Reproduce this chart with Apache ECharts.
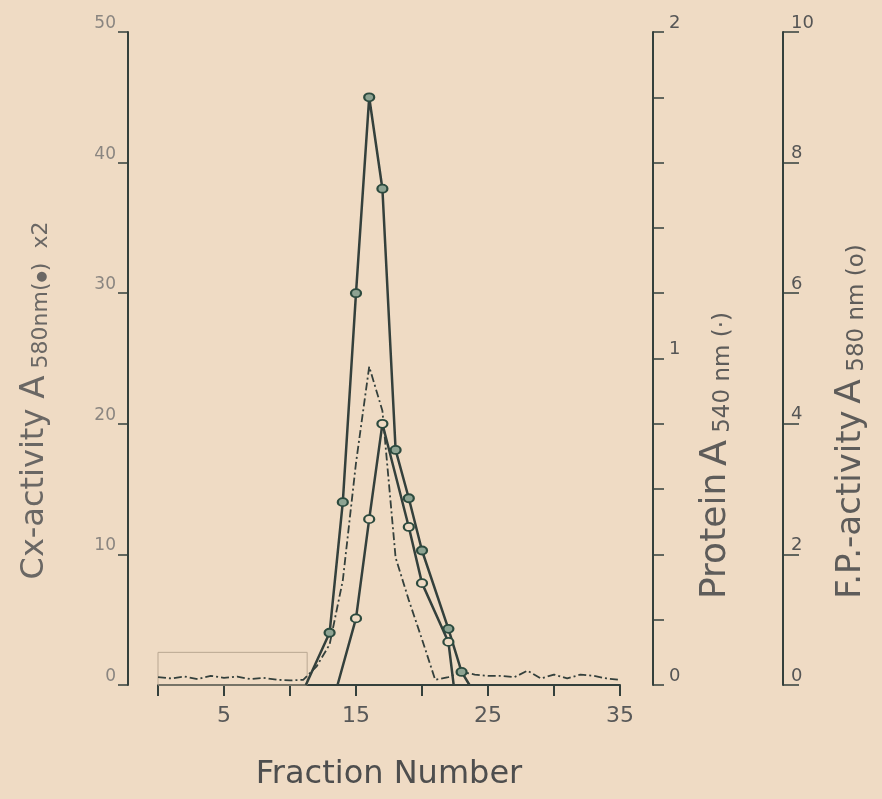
<!DOCTYPE html>
<html>
<head>
<meta charset="utf-8">
<style>
  html, body { margin: 0; padding: 0; background: #efdbc4; }
  #chart { width: 882px; height: 799px; }
</style>
<script src="https://cdn.jsdelivr.net/npm/echarts@6/dist/echarts.min.js"></script>
</head>
<body>
<div id="chart"></div>
<script>
// ---- data ----
const fractions = [0,1,2,3,4,5,6,7,8,9,10,11,12,13,14,15,16,17,18,19,20,21,22,23,24,25,26,27,28,29,30,31,32,33,34,35];
// Protein A540 nm (dash-dot line), protein axis units
const proteinA540 = [0.024,0.02,0.026,0.018,0.028,0.022,0.026,0.018,0.022,0.016,0.014,0.016,0.056,0.124,0.32,0.68,0.975,0.84,0.39,0.26,0.14,0.016,0.024,0.04,0.032,0.028,0.028,0.024,0.044,0.02,0.032,0.02,0.032,0.028,0.02,0.016];
// Cx-activity A580 nm x2 (solid line, filled circles), left axis units
const cxFractions = [11.2,13,14,15,16,17,18,19,20,22,23,23.6];
const cxActivity  = [0,4,14,30,45,38,18,14.3,10.3,4.3,1,0];
// F.P.-activity A580 nm (solid line, open circles), right-most axis units
const fpFractions = [13.6,15,16,17,19,20,22,22.4];
const fpActivity  = [0,1.02,2.54,4.0,2.42,1.56,0.66,0];
// tick labels
const xTickLabels = [5,15,25,35];
const proteinTickLabels = [0,1,2];

const ink = '#34403c';
const symInk = '#2c4a3e';

function richStyles(color, big, sub) {
  return {
    a: { fontSize: big, color: color, fontFamily: 'DejaVu Sans' },
    b: { fontSize: big + 2, color: color, fontFamily: 'DejaVu Sans' },
    s: { fontSize: sub, color: color, fontFamily: 'DejaVu Sans', verticalAlign: 'bottom' },
    d: { fontSize: Math.round(sub * 0.6), color: color, fontFamily: 'DejaVu Sans', verticalAlign: 'bottom', padding: [0, 0, 4, 0] }
  };
}

const chart = echarts.init(document.getElementById('chart'));
const option = {
  backgroundColor: '#efdbc4',
  animation: false,
  grid: { left: 158, right: 262, top: 32, bottom: 114 },
  xAxis: {
    type: 'value', min: 0, max: 35, interval: 5,
    axisLine: { show: true, onZero: false, lineStyle: { color: ink, width: 2 } },
    axisTick: { show: true, length: 11, lineStyle: { color: ink, width: 2 } },
    splitLine: { show: false },
    axisLabel: {
      margin: 20, fontSize: 22, color: '#585858', fontFamily: 'DejaVu Sans',
      formatter: v => xTickLabels.indexOf(v) >= 0 ? String(v) : ''
    },
    name: 'Fraction Number', nameLocation: 'middle', nameGap: 74,
    nameTextStyle: { fontSize: 32, color: '#4e4e4e', fontFamily: 'DejaVu Sans' }
  },
  yAxis: [
    {
      type: 'value', min: 0, max: 50, interval: 10, position: 'left', offset: 30,
      axisLine: { show: true, onZero: false, lineStyle: { color: ink, width: 2 } },
      axisTick: { show: true, length: 10, lineStyle: { color: ink, width: 1.5 } },
      splitLine: { show: false },
      axisLabel: { margin: 12, fontSize: 17, color: '#8a8580', fontFamily: 'DejaVu Sans', verticalAlign: 'bottom' },
      name: '{a|Cx-activity}   {b|A}{s| 580nm(}{d|●}{s|)  x2}',
      nameLocation: 'middle', nameRotate: 90, nameGap: 76,
      nameTextStyle: { padding: [0, 84, 0, 0], rich: richStyles('#6a6764', 32, 22) }
    },
    {
      type: 'value', min: 0, max: 2, interval: 0.2, position: 'right', offset: 33,
      axisLine: { show: true, onZero: false, lineStyle: { color: ink, width: 2 } },
      axisTick: { show: true, length: 11, lineStyle: { color: ink, width: 1.5 } },
      splitLine: { show: false },
      axisLabel: {
        margin: 16, fontSize: 18, color: '#555', fontFamily: 'DejaVu Sans', verticalAlign: 'bottom',
        formatter: v => {
          const r = Math.round(v);
          return (Math.abs(v - r) < 1e-6 && proteinTickLabels.indexOf(r) >= 0) ? String(r) : '';
        }
      },
      name: '{a|Protein}  {b|A}{s| 540 nm (·)}',
      nameLocation: 'middle', nameRotate: 90, nameGap: 44,
      nameTextStyle: { padding: [0, 194, 0, 0], rich: richStyles('#5e5c5a', 36, 23) }
    },
    {
      type: 'value', min: 0, max: 10, interval: 2, position: 'right', offset: 163,
      axisLine: { show: true, onZero: false, lineStyle: { color: ink, width: 2 } },
      axisTick: { show: true, length: 16, lineStyle: { color: ink, width: 1.5 } },
      splitLine: { show: false },
      axisLabel: { margin: 8, fontSize: 18, color: '#555', fontFamily: 'DejaVu Sans', verticalAlign: 'bottom' },
      name: '{a|F.P.-activity}  {b|A}{s| 580 nm (o)}',
      nameLocation: 'middle', nameRotate: 90, nameGap: 50,
      nameTextStyle: { padding: [0, 126, 0, 0], rich: richStyles('#5e5c5a', 34, 23) }
    }
  ],
  series: [
    {
      name: 'Protein', type: 'line', yAxisIndex: 1, clip: false,
      data: fractions.map((f, i) => [f, proteinA540[i]]),
      showSymbol: false, symbol: 'none',
      lineStyle: { color: ink, width: 1.8, type: [8, 3, 2, 3] },
      markArea: {
        silent: true,
        itemStyle: { color: 'rgba(0,0,0,0)', borderColor: '#b9a792', borderWidth: 1 },
        data: [[{ coord: [0, 0.10] }, { coord: [11.3, -0.055] }]]
      }
    },
    {
      name: 'Cx-activity', type: 'line', yAxisIndex: 0,
      data: cxFractions.map((f, i) => cxActivity[i] === 0
        ? { value: [f, cxActivity[i]], symbol: 'none' }
        : [f, cxActivity[i]]),
      symbol: 'circle', symbolSize: [10, 8], showAllSymbol: true,
      itemStyle: { color: '#8ea392', borderColor: symInk, borderWidth: 2 },
      lineStyle: { color: ink, width: 2.5 }
    },
    {
      name: 'F.P.-activity', type: 'line', yAxisIndex: 2,
      data: fpFractions.map((f, i) => fpActivity[i] === 0
        ? { value: [f, fpActivity[i]], symbol: 'none' }
        : [f, fpActivity[i]]),
      symbol: 'circle', symbolSize: [10, 8], showAllSymbol: true,
      itemStyle: { color: '#efdbc4', borderColor: symInk, borderWidth: 2 },
      lineStyle: { color: ink, width: 2.5 }
    }
  ]
};
chart.setOption(option);
</script>
</body>
</html>
